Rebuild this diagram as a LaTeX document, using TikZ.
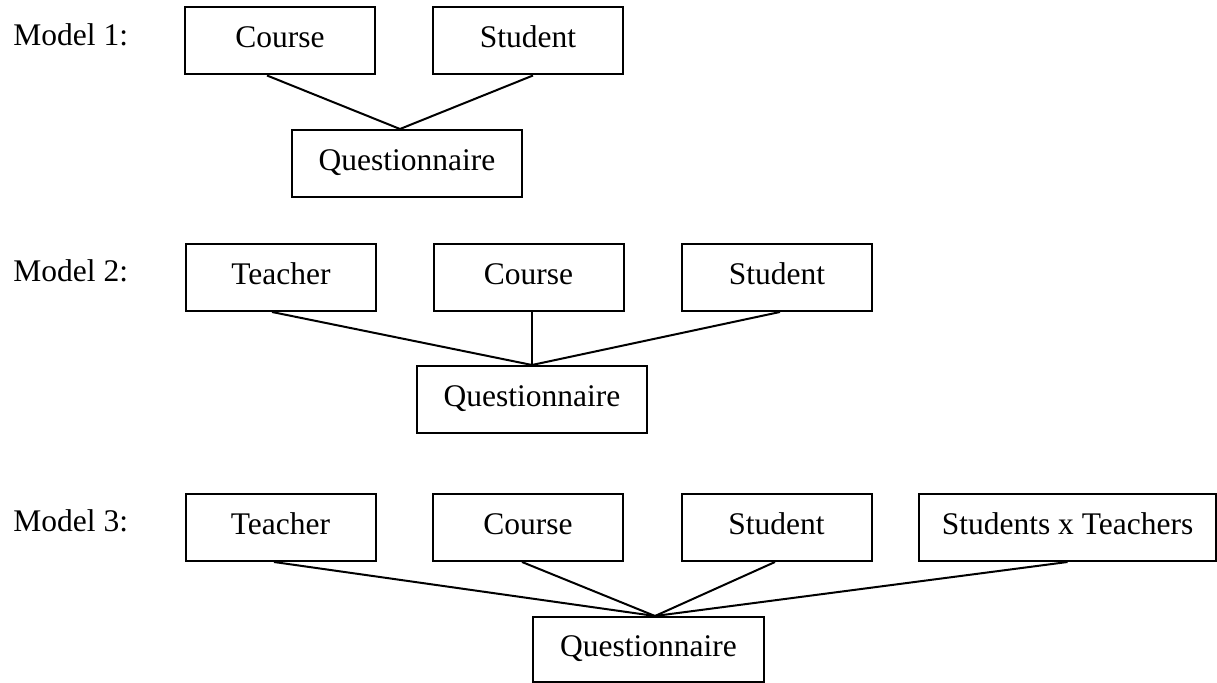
\documentclass[tikz,border=0pt]{standalone}
\usepackage{fontspec}
\setmainfont{Liberation Serif}
\usetikzlibrary{calc}
\begin{document}
\begin{tikzpicture}[x=0.5pt,y=-0.5pt,
  ent/.style={draw=black,line width=1pt,inner sep=0pt,minimum height=33.5pt,minimum width=95pt,text height=10.5pt,text depth=3.5pt,font=\fontsize{15.75}{18}\selectfont},
  lbl/.style={anchor=base west,inner sep=0pt,font=\fontsize{15.75}{18}\selectfont},
  link/.style={draw=black,line width=1pt}]
\useasboundingbox (0,0) rectangle (1217,683);
% Model 1
\node[lbl] (m1) at (13,46) {Model 1:};
\node[ent] (c1) at (280,41) {Course};
\node[ent] (s1) at (528,41) {Student};
\node[ent,minimum width=115pt] (q1) at (407,163.5) {Questionnaire};
\coordinate (j1) at ($(q1.north)+(-7,0)$);
\draw[link] ($(c1.south)+(-13,0)$) -- (j1);
\draw[link] ($(s1.south)+(5,0)$) -- (j1);
% Model 2
\node[lbl] (m2) at (13,282) {Model 2:};
\node[ent] (t2) at (281,277.5) {Teacher};
\node[ent] (c2) at (528.5,277.5) {Course};
\node[ent] (s2) at (777,277.5) {Student};
\node[ent,minimum width=115pt] (q2) at (532,399.5) {Questionnaire};
\draw[link] ($(t2.south)+(-9,0)$) -- (q2.north);
\draw[link] ($(c2.south)+(3.5,0)$) -- (q2.north);
\draw[link] ($(s2.south)+(3,0)$) -- (q2.north);
% Model 3
\node[lbl] (m3) at (13,532) {Model 3:};
\node[ent] (t3) at (280.5,527.5) {Teacher};
\node[ent] (c3) at (528,527.5) {Course};
\node[ent] (s3) at (776.5,527.5) {Student};
\node[ent,minimum width=148.5pt] (x3) at (1067.5,527.5) {Students x Teachers};
\node[ent,minimum width=115.5pt,minimum height=32.5pt] (q3) at (648.5,649.5) {Questionnaire};
\coordinate (j3) at ($(q3.north)+(6.5,0)$);
\draw[link] ($(t3.south)+(-6.5,0)$) -- (j3);
\draw[link] ($(c3.south)+(-6,0)$) -- (j3);
\draw[link] ($(s3.south)+(-1.5,0)$) -- (j3);
\draw[link] (x3.south) -- (j3);
\end{tikzpicture}
\end{document}
